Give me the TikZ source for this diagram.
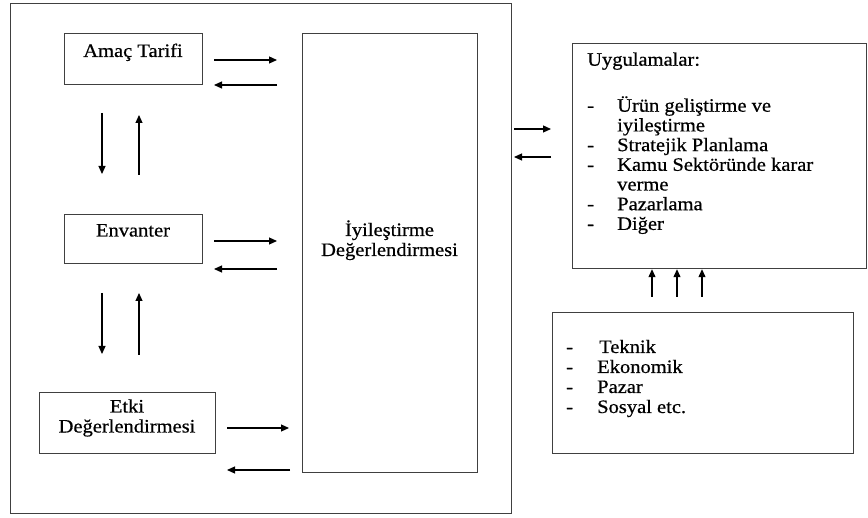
\documentclass[tikz,border=0pt]{standalone}
\usepackage{fontspec}
\setmainfont[FakeStretch=1.08,FakeBold=0.6]{Liberation Serif}
\usetikzlibrary{arrows.meta}
\begin{document}
\begin{tikzpicture}[x=1pt,y=-1pt,
  box/.style={draw=black!75, line width=1.2pt, inner sep=0pt, anchor=north west},
  txt/.style={inner sep=0pt, font=\fontsize{19}{20}\selectfont},
  arr/.style={line width=1.2pt, -{Triangle[length=8pt,width=7pt]}}]
\useasboundingbox (0,0) rectangle (868,518);
\fill[white] (0,0) rectangle (868,518);
% boxes
\node[box, minimum width=501pt, minimum height=510pt] (outer) at (10,3) {};
\node[box, minimum width=138pt, minimum height=51pt] (amac) at (64,33) {};
\node[box, minimum width=138pt, minimum height=49pt] (env) at (64,214) {};
\node[box, minimum width=176pt, minimum height=61pt] (etki) at (39,392) {};
\node[box, minimum width=175pt, minimum height=439pt] (iyi) at (302,33) {};
\node[box, minimum width=294pt, minimum height=225pt] (uyg) at (572,43) {};
\node[box, minimum width=301pt, minimum height=141pt] (fak) at (552,312) {};
% box texts
\node[txt, anchor=base] (amacT) at (133,57) {Amaç Tarifi};
\node[txt, anchor=base] (envT) at (133,236.5) {Envanter};
\node[txt, anchor=base] (etkiT1) at (127,412.5) {Etki};
\node[txt, anchor=base] (etkiT2) at (127,432.5) {Değerlendirmesi};
\node[txt, anchor=base] (iyiT1) at (389.5,236) {İyileştirme};
\node[txt, anchor=base] (iyiT2) at (389.5,256) {Değerlendirmesi};
\node[txt, anchor=base west] (uygT) at (587,65.7) {Uygulamalar:};
\foreach \y/\d/\t [count=\i] in {111.7/-/Ürün geliştirme ve, 131.4//iyileştirme, 151.1/-/Stratejik Planlama, 170.8/-/Kamu Sektöründe karar, 190.5//verme, 210.2/-/Pazarlama, 229.9/-/Diğer}{
  \node[txt, anchor=base west] (ud\i) at (587,\y) {\d};
  \node[txt, anchor=base west] (ut\i) at (617,\y) {\t};
}
\foreach \y/\x/\t [count=\i] in {353/599/Teknik, 373/597/Ekonomik, 393/597/Pazar, 413/597/Sosyal etc.}{
  \node[txt, anchor=base west] (fd\i) at (566,\y) {-};
  \node[txt, anchor=base west] (ft\i) at (\x,\y) {\t};
}
% arrow end coordinates
\coordinate (a1s) at (214,60);  \coordinate (a1e) at (277,60);
\coordinate (b1s) at (277,85);  \coordinate (b1e) at (214,85);
\coordinate (a2s) at (214,241); \coordinate (a2e) at (277,241);
\coordinate (b2s) at (277,269); \coordinate (b2e) at (214,269);
\coordinate (a3s) at (227,428); \coordinate (a3e) at (289,428);
\coordinate (b3s) at (290,470); \coordinate (b3e) at (227,470);
\coordinate (a4s) at (514,129); \coordinate (a4e) at (551,129);
\coordinate (b4s) at (551,157); \coordinate (b4e) at (514,157);
\coordinate (v1s) at (102,113); \coordinate (v1e) at (102,174);
\coordinate (w1s) at (139,175); \coordinate (w1e) at (139,115);
\coordinate (v2s) at (102,293); \coordinate (v2e) at (102,354);
\coordinate (w2s) at (139,355); \coordinate (w2e) at (139,293);
\coordinate (u1) at (652,297); \coordinate (u2) at (677,297); \coordinate (u3) at (702,297);
% arrows
\foreach \s/\e in {a1s/a1e,b1s/b1e,a2s/a2e,b2s/b2e,a3s/a3e,b3s/b3e,a4s/a4e,b4s/b4e,v1s/v1e,w1s/w1e,v2s/v2e,w2s/w2e}
  \draw[arr] (\s) -- (\e);
\foreach \u in {u1,u2,u3}
  \draw[arr] (\u) -- (\u |- uyg.south);
\end{tikzpicture}
\end{document}
